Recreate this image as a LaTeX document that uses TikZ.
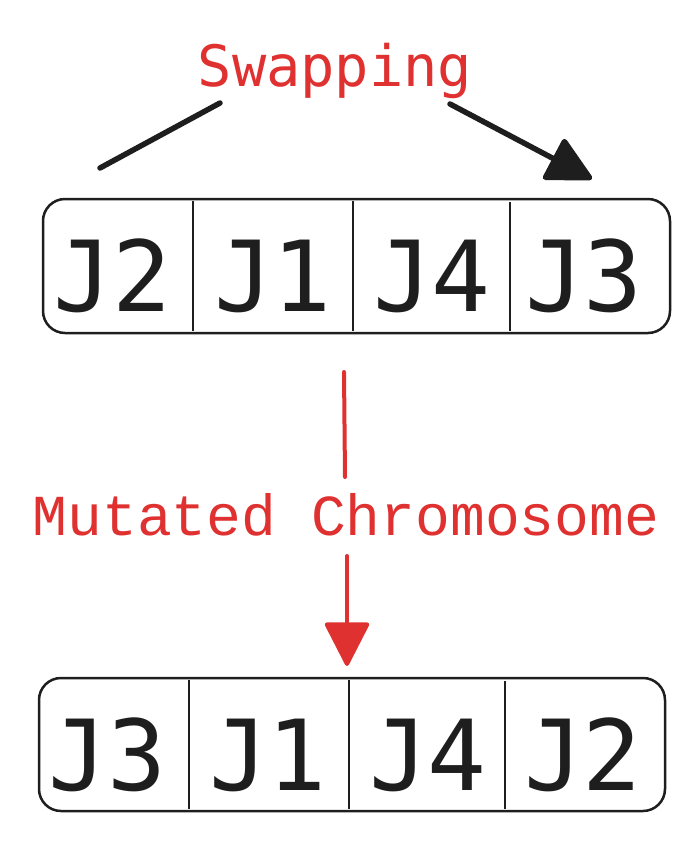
\documentclass[tikz,border=0pt]{standalone}
\usepackage{fontspec}
\newfontfamily\jfont{DejaVu Sans Mono}
\newfontfamily\lblfont{Liberation Mono}
\usetikzlibrary{arrows.meta}
\definecolor{exred}{HTML}{E03131}
\definecolor{exblack}{HTML}{1E1E1E}
\begin{document}
\begin{tikzpicture}[x=1pt,y=-1pt,
  chrom/.style={draw=exblack,line width=2.5pt,rounded corners=22pt},
  divider/.style={draw=exblack,line width=1.8pt},
  gene/.style={text=exblack,font=\jfont\fontsize{98}{98}\selectfont,inner sep=0pt,anchor=base},
  blackarrow/.style={draw=exblack,line width=5.5pt,line cap=round},
  redarrow/.style={draw=exred,line width=4pt,line cap=round}]
\useasboundingbox (0,0) rectangle (700,847);
% title
\node (swap) [text=exred,font=\jfont\fontsize{57}{57}\selectfont,anchor=base,inner sep=0pt] at (335,86) {Swapping};
\coordinate (l1) at (220,103);
\coordinate (l2) at (100,168);
\coordinate (r1) at (450,104);
\coordinate (r2) at (592,179);
\draw[blackarrow] (l1) -- (l2);
\draw[blackarrow,-{Triangle[length=48pt,width=48pt,round]}] (r1) -- (r2);
% top chromosome
\draw[chrom] (43,199) rectangle (670,333);
\coordinate (ta1) at (193,201); \coordinate (tb1) at (193,331);
\coordinate (ta2) at (353,201); \coordinate (tb2) at (353,331);
\coordinate (ta3) at (510,202); \coordinate (tb3) at (510,331);
\draw[divider] (ta1) -- (tb1);
\draw[divider] (ta2) -- (tb2);
\draw[divider] (ta3) -- (tb3);
\node (t1) [gene] at (113,311) {J2};
\node (t2) [gene] at (273,311) {J1};
\node (t3) [gene] at (432,311) {J4};
\node (t4) [gene] at (584,311) {J3};
% mutation label and arrow
\coordinate (m1) at (344,372);
\coordinate (m2) at (345,477);
\coordinate (m3) at (347,556);
\coordinate (m4) at (347,666);
\node (mut) [text=exred,font=\lblfont\fontsize{58}{58}\selectfont,anchor=base,inner sep=0pt] at (346,535) {Mutated Chromosome};
\draw[redarrow] (m1) -- (m2);
\draw[redarrow,-{Triangle[length=46pt,width=46pt,round]}] (m3) -- (m4);
% bottom chromosome
\draw[chrom] (39,678) rectangle (665,811);
\coordinate (ba1) at (189,680); \coordinate (bb1) at (189,809);
\coordinate (ba2) at (349,680); \coordinate (bb2) at (349,809);
\coordinate (ba3) at (505,681); \coordinate (bb3) at (505,809);
\draw[divider] (ba1) -- (bb1);
\draw[divider] (ba2) -- (bb2);
\draw[divider] (ba3) -- (bb3);
\node (b1) [gene] at (108,790) {J3};
\node (b2) [gene] at (268,790) {J1};
\node (b3) [gene] at (428,790) {J4};
\node (b4) [gene] at (583,790) {J2};
\end{tikzpicture}
\end{document}
